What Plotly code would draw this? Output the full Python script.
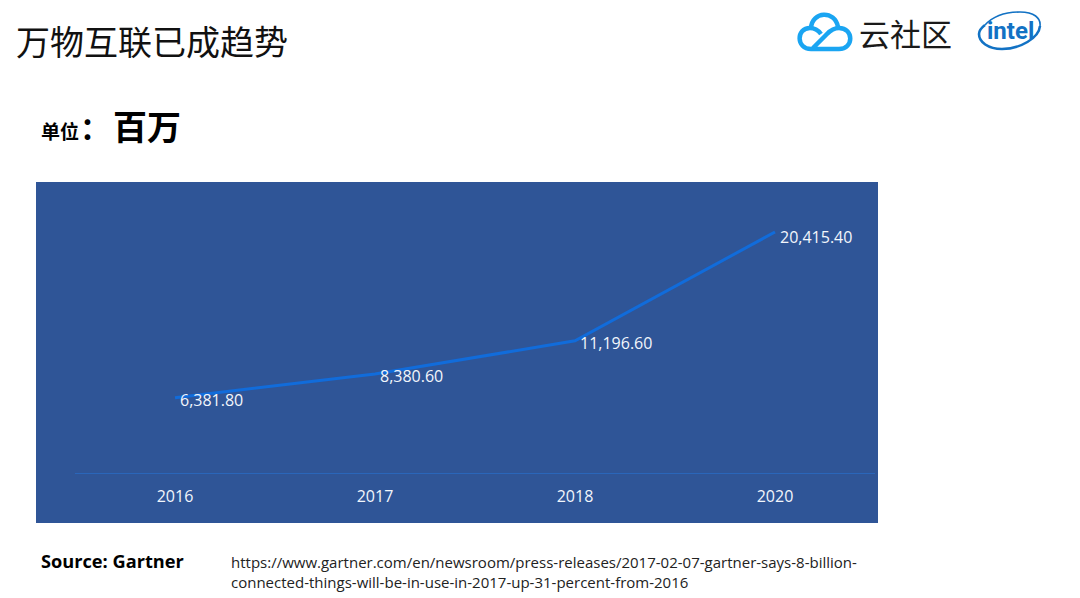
import plotly.graph_objects as go

# Values (millions of connected things)
years = ['2016', '2017', '2018', '2020']
things = [6381.80, 8380.60, 11196.60, 20415.40]
value_labels = ['6,381.80', '8,380.60', '11,196.60', '20,415.40']

W, H = 1080, 598
# plot area in pixels, the blue panel is bigger than it
left, right, top, bottom = 75, 875, 182, 473

CJK = 'Noto Sans CJK SC'
LATIN = 'Open Sans'
LABEL_COLOR = '#F2F6FC'
CLOUD_BLUE = '#1AA5F2'
INTEL_BLUE = '#1272C4'


def px(x):
    return (x - left) / (right - left)


def py(y):
    return (bottom - y) / (bottom - top)


def path(points):
    # points are in slide pixels, path letters stay as they are
    out = []
    for p in points:
        if isinstance(p, str):
            out.append(p)
        else:
            out.append(f'{px(p[0]):.5f} {py(p[1]):.5f}')
    return ' '.join(out)


def logo_stroke(points, color, width):
    return dict(type='path', xref='paper', yref='paper', path=path(points),
                line=dict(color=color, width=width))


fig = go.Figure()

fig.add_trace(go.Scatter(
    x=years, y=things, mode='lines',
    line=dict(color='#116CDB', width=3),
    cliponaxis=False, hoverinfo='skip',
))

shapes = [
    # blue panel behind the chart
    dict(type='rect', xref='paper', yref='paper', layer='below',
         x0=px(36), x1=px(878), y0=py(523), y1=py(182),
         fillcolor='#2F5597', line_width=0),
    # tencent cloud logo, three strokes
    logo_stroke(['M', (811, 49), 'L', (839, 49), 'C', (854, 49), (854, 28), (839, 28),
                 'C', (832, 28), (829, 32), (826, 35), 'L', (813, 48)], CLOUD_BLUE, 4.5),
    logo_stroke(['M', (811, 49), 'C', (796, 49), (796, 28), (810, 28),
                 'C', (814, 28), (818, 30), (821, 34)], CLOUD_BLUE, 4.5),
    logo_stroke(['M', (811, 28), 'C', (812, 11), (835, 10), (838, 27)], CLOUD_BLUE, 4.5),
    # intel swoosh
    logo_stroke(['M', (985, 25), 'C', (995, 14), (1010, 12), (1020, 12),
                 'C', (1034, 12), (1041, 18), (1040, 26)], INTEL_BLUE, 1.6),
    logo_stroke(['M', (1040, 26), 'C', (1039, 38), (1020, 49), (1002, 49),
                 'C', (988, 49), (979, 42), (979, 34), 'C', (979, 30), (981, 28), (985, 25)],
                INTEL_BLUE, 2.6),
]


def note(x, y, text, size, family=CJK, color='#000000', anchor='left'):
    return dict(xref='paper', yref='paper', x=px(x), y=py(y), text=text, showarrow=False,
                xanchor=anchor, yanchor='middle',
                font=dict(family=family, size=size, color=color))


annotations = [
    note(14, 41, '万物互联已成趋势', 34, color='#111111'),
    note(39, 130, '<b>单位</b>', 19),
    note(78, 126, '<b>：</b>', 30),
    note(111, 125, '<b>百万</b>', 34),
    note(857, 32, '云社区', 31, color='#1A1A1A'),
    note(985, 31, '<b>intel</b>', 24, family='Roboto', color=INTEL_BLUE),
    note(39, 561, '<b>Source: Gartner</b>', 18.2, family=LATIN),
    note(229, 562, 'https://www.gartner.com/en/newsroom/press-releases/2017-02-07-gartner-says-8-billion-',
         15, family=LATIN, color='#222222'),
    note(229, 582, 'connected-things-will-be-in-use-in-2017-up-31-percent-from-2016',
         15, family=LATIN, color='#222222'),
]

# value labels sit on the line end, the last one a bit lower
# x has to be the category index here, the string '2016' would be read as a number
label_drop = [2, 2, 2, 5]
for i, (value, label, drop) in enumerate(zip(things, value_labels, label_drop)):
    annotations.append(dict(xref='x', yref='y', x=i, y=value, text=label, showarrow=False,
                            xanchor='left', yanchor='middle', xshift=3, yshift=-drop,
                            font=dict(family=LATIN, size=16, color=LABEL_COLOR)))

fig.update_layout(
    width=W, height=H,
    margin=dict(l=left, r=W - right, t=top, b=H - bottom, pad=0),
    paper_bgcolor='#FFFFFF', plot_bgcolor='rgba(0,0,0,0)',
    showlegend=False, shapes=shapes, annotations=annotations,
    xaxis=dict(type='category', categoryorder='array', categoryarray=years,
               range=[-0.5, 3.5], showgrid=False, zeroline=False,
               showline=True, linecolor='#2A66BA', linewidth=1,
               ticks='', ticklabelstandoff=9,
               tickfont=dict(family=LATIN, size=16, color=LABEL_COLOR)),
    yaxis=dict(range=[0, 24650], visible=False, fixedrange=True),
)

fig.write_html("out.html", config={'displayModeBar': False},
               post_script="document.body.style.margin='0';")
